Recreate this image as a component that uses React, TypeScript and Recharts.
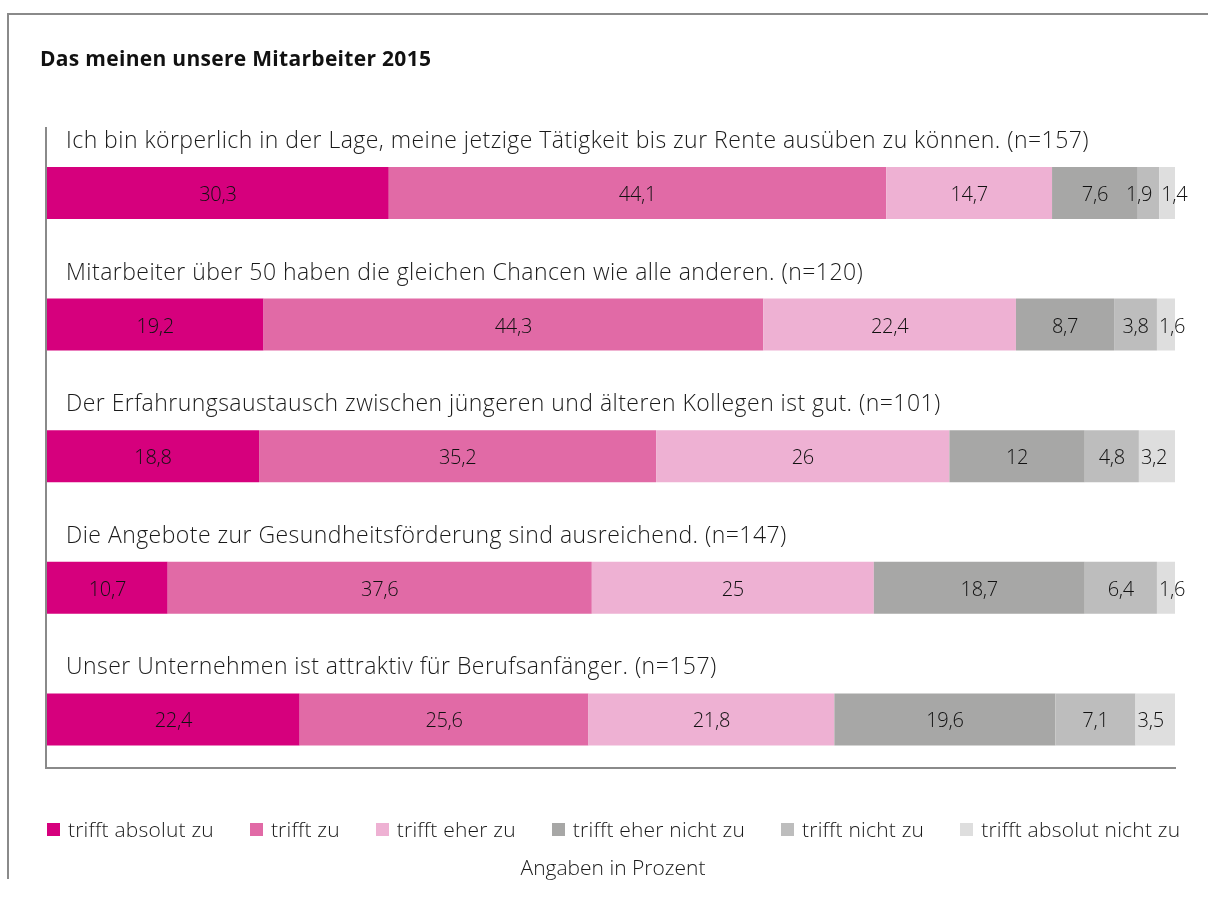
import { BarChart, Bar, XAxis, YAxis, LabelList } from 'recharts';

const categories = [
  'Ich bin körperlich in der Lage, meine jetzige Tätigkeit bis zur Rente ausüben zu können. (n=157)',
  'Mitarbeiter über 50 haben die gleichen Chancen wie alle anderen. (n=120)',
  'Der Erfahrungsaustausch zwischen jüngeren und älteren Kollegen ist gut. (n=101)',
  'Die Angebote zur Gesundheitsförderung sind ausreichend. (n=147)',
  'Unser Unternehmen ist attraktiv für Berufsanfänger. (n=157)',
];

const absolutZu = [30.3, 19.2, 18.8, 10.7, 22.4];
const zu = [44.1, 44.3, 35.2, 37.6, 25.6];
const eherZu = [14.7, 22.4, 26, 25, 21.8];
const eherNichtZu = [7.6, 8.7, 12, 18.7, 19.6];
const nichtZu = [1.9, 3.8, 4.8, 6.4, 7.1];
const absolutNichtZu = [1.4, 1.6, 3.2, 1.6, 3.5];

const seriesNames = [
  'trifft absolut zu',
  'trifft zu',
  'trifft eher zu',
  'trifft eher nicht zu',
  'trifft nicht zu',
  'trifft absolut nicht zu',
];
const seriesKeys = ['s0', 's1', 's2', 's3', 's4', 's5'];
const colors = ['#d6007d', '#e16aa6', '#eeb1d3', '#a7a7a6', '#bdbdbd', '#dedede'];

const data = categories.map((name, i) => ({
  name,
  s0: absolutZu[i],
  s1: zu[i],
  s2: eherZu[i],
  s3: eherNichtZu[i],
  s4: nichtZu[i],
  s5: absolutNichtZu[i],
}));

const FONT = '"Open Sans", "Noto Sans", sans-serif';
const fmt = (v: number) => String(v).replace('.', ',');

function ValueLabel(props: any) {
  const { x, y, width, height, value, series } = props;
  let tx = x + width / 2;
  let anchor: 'start' | 'middle' | 'end' = 'middle';
  if (series === 5) {
    tx = x + 2;
    anchor = 'start';
  } else if (series === 4 && width < 30) {
    // narrow segment: pull the label left so it clears the last one
    tx = x + width - 7;
    anchor = 'end';
  }
  return (
    <text
      x={tx}
      y={y + height / 2 + 8}
      textAnchor={anchor}
      fontSize={20}
      fontWeight={300}
      letterSpacing={-0.3}
      fontFamily={FONT}
      fill="#111"
    >
      {fmt(value)}
    </text>
  );
}

function CategoryLabel(props: any) {
  const { x, y, index } = props;
  return (
    <text
      x={x + 19}
      y={y - 19}
      fontSize={23}
      fontWeight={300}
      fontFamily={FONT}
      letterSpacing={0.46}
      fill="#1a1a1a"
    >
      {categories[index]}
    </text>
  );
}

export default function App() {
  return (
    <div style={{ position: 'relative', width: 1192, height: 880, fontFamily: FONT }}>
      {/* outer frame, pinned to the viewport so it runs to the right edge */}
      <div
        style={{
          position: 'fixed',
          left: 7,
          top: 13,
          right: 0,
          height: 864,
          borderTop: '2px solid #8a8a8a',
          borderLeft: '2px solid #8a8a8a',
        }}
      />
      <div
        style={{
          position: 'absolute',
          left: 32,
          top: 37,
          fontSize: 21,
          lineHeight: '26px',
          fontWeight: 700,
          letterSpacing: 0.3,
          color: '#111',
        }}
      >
        Das meinen unsere Mitarbeiter 2015
      </div>

      {/* axis lines */}
      <div style={{ position: 'absolute', left: 37, top: 119, width: 2, height: 642, background: '#8a8a8a' }} />
      <div style={{ position: 'absolute', left: 37, top: 759, width: 1131, height: 2, background: '#8a8a8a' }} />

      <div style={{ position: 'absolute', left: 0, top: 0 }}>
        <BarChart
          width={1200}
          height={800}
          data={data}
          layout="vertical"
          margin={{ top: 119, right: 33, left: 39, bottom: 23 }}
          barSize={52}
        >
          <XAxis type="number" domain={[0, 100]} hide />
          <YAxis type="category" dataKey="name" hide />
          {seriesKeys.map((k, i) => (
            <Bar
              key={k}
              dataKey={k}
              name={seriesNames[i]}
              stackId="a"
              fill={colors[i]}
              isAnimationActive={false}
            >
              <LabelList dataKey={k} content={(p: any) => <ValueLabel {...p} series={i} />} />
              {i === 0 && <LabelList dataKey="name" content={(p: any) => <CategoryLabel {...p} />} />}
            </Bar>
          ))}
        </BarChart>
      </div>

      {/* legend */}
      <div
        style={{
          position: 'absolute',
          left: 39,
          top: 807,
          display: 'flex',
          alignItems: 'center',
          gap: 36,
          fontSize: 21,
          fontWeight: 300,
          letterSpacing: 0.2,
          color: '#1a1a1a',
          whiteSpace: 'nowrap',
        }}
      >
        {seriesNames.map((n, i) => (
          <span key={n} style={{ display: 'flex', alignItems: 'center', gap: 8 }}>
            <span style={{ width: 13, height: 13, background: colors[i], display: 'inline-block' }} />
            {n}
          </span>
        ))}
      </div>
      <div
        style={{
          position: 'absolute',
          left: 0,
          width: 1210,
          top: 845,
          textAlign: 'center',
          fontSize: 21,
          fontWeight: 300,
          color: '#1a1a1a',
        }}
      >
        Angaben in Prozent
      </div>
    </div>
  );
}
